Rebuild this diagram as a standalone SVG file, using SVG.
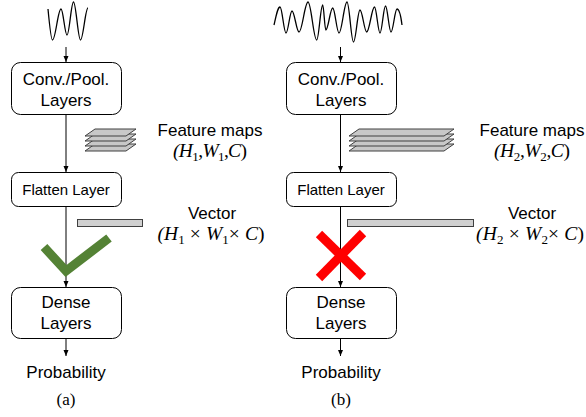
<svg xmlns="http://www.w3.org/2000/svg" width="586" height="417" viewBox="0 0 586 417">
<style>
.box{fill:#fff;stroke:#000;stroke-width:1}
.lbl{font-family:"Liberation Sans",Arial,sans-serif;font-size:17px;fill:#000;text-anchor:middle}
.sm{font-size:15px}
.math{font-family:"Liberation Serif","Times New Roman",serif;font-size:19.5px;font-style:italic;fill:#000;text-anchor:middle}
.up{font-style:normal}
.sub{font-style:normal;font-size:13px}
.cap{font-family:"Liberation Serif","Times New Roman",serif;font-size:17px;fill:#000;text-anchor:middle}
.wave{fill:none;stroke:#000;stroke-width:1.3}
.plate{fill:#c8c8c8;stroke:#404040;stroke-width:1}
.bar{fill:#d0d0d0;stroke:#404040;stroke-width:1}
.conn{stroke:#000;stroke-width:1;fill:none}
</style>
<defs>
<marker id="ah" viewBox="0 0 6 6" refX="6" refY="3" markerWidth="6" markerHeight="6" orient="auto" markerUnits="userSpaceOnUse">
<path d="M0,0.5 L6,3 L0,5.5 z" fill="#000"/>
</marker>
</defs>

<g id="wave-a">
<path class="wave" d="M48,9 C49.5,25 51,40 52.5,40 C55.6,40 57.9,9 61,9 C63.2,9 64.8,35 67,35 C69.4,35 71.1,2 73.5,2 C76,2 78,40 80.5,40 C83.2,40 85.3,8 88,8"/>
</g>
<g id="wave-b">
<path class="wave" d="M274,25 C276.5,14 277.8,7 280,7 C282.2,7 283.8,33 286,33 C288.2,33 289.8,11 292,11 C294.5,11 296.5,32 299,32 C302.3,32 304.7,2 308,2 C311.2,2 313.5,40 316.7,40 C318.9,40 320.5,5 322.7,5 C323.8,5 324.7,30 325.8,30 C328.3,30 330.2,8 332.7,8 C335,8 336.7,33 339,33 C341.9,33 344.1,2 347,2 C349.4,2 351.1,42 353.5,42 C355.9,42 357.6,10 360,10 C362.4,10 364.3,32 366.7,32 C369.5,32 371.7,7 374.5,7 C376.5,7 378,33 380,33 C382,33 383.5,6 385.5,6 C387.5,6 389,32 391,32 C393.2,32 394.8,9 397,9 C399,9 401,17 402,25"/>
</g>

<g id="connectors">
<line class="conn" x1="66" y1="47" x2="66" y2="62" marker-end="url(#ah)"/>
<line class="conn" x1="66" y1="114" x2="66" y2="172" marker-end="url(#ah)"/>
<line class="conn" x1="66" y1="207" x2="66" y2="287" marker-end="url(#ah)"/>
<line class="conn" x1="66" y1="338" x2="66" y2="356" marker-end="url(#ah)"/>
<line class="conn" x1="340.5" y1="47" x2="340.5" y2="62" marker-end="url(#ah)"/>
<line class="conn" x1="340.5" y1="114" x2="340.5" y2="172" marker-end="url(#ah)"/>
<line class="conn" x1="340.5" y1="207" x2="340.5" y2="287" marker-end="url(#ah)"/>
<line class="conn" x1="340.5" y1="338" x2="340.5" y2="356" marker-end="url(#ah)"/>
</g>

<g id="conv-a">
<rect class="box" x="11.5" y="62.5" width="110" height="52" rx="9"/>
<text class="lbl" x="66" y="85">Conv./Pool.</text>
<text class="lbl" x="66" y="106">Layers</text>
</g>
<g id="flatten-a">
<rect class="box" x="11.5" y="172.5" width="110" height="34" rx="7"/>
<text class="lbl sm" x="66" y="195">Flatten Layer</text>
</g>
<g id="dense-a">
<rect class="box" x="11.5" y="287.5" width="110" height="51" rx="9"/>
<text class="lbl" x="66" y="308">Dense</text>
<text class="lbl" x="66" y="329">Layers</text>
</g>
<g id="prob-a">
<text class="lbl" x="66" y="378">Probability</text>
</g>

<g id="conv-b">
<rect class="box" x="286.5" y="62.5" width="110" height="52" rx="9"/>
<text class="lbl" x="341" y="85">Conv./Pool.</text>
<text class="lbl" x="341" y="106">Layers</text>
</g>
<g id="flatten-b">
<rect class="box" x="286.5" y="172.5" width="110" height="34" rx="7"/>
<text class="lbl sm" x="341" y="195">Flatten Layer</text>
</g>
<g id="dense-b">
<rect class="box" x="286.5" y="287.5" width="110" height="51" rx="9"/>
<text class="lbl" x="341" y="308">Dense</text>
<text class="lbl" x="341" y="329">Layers</text>
</g>
<g id="prob-b">
<text class="lbl" x="341" y="378">Probability</text>
</g>

<g id="featuremaps-a">
<polygon class="plate" points="95,144 136,144 126,151 85,151"/>
<polygon class="plate" points="95,139 136,139 126,146 85,146"/>
<polygon class="plate" points="95,134 136,134 126,141 85,141"/>
<polygon class="plate" points="95,129 136,129 126,136 85,136"/>
<text class="lbl" x="210" y="136">Feature maps</text>
<text class="math" x="210" y="157" textLength="74" lengthAdjust="spacing">(H<tspan class="sub" dy="4">1</tspan><tspan class="up" dy="-4">,</tspan>W<tspan class="sub" dy="4">1</tspan><tspan class="up" dy="-4">,</tspan>C<tspan class="up">)</tspan></text>
</g>
<g id="featuremaps-b">
<polygon class="plate" points="359,144 454,144 444,151 349,151"/>
<polygon class="plate" points="359,139 454,139 444,146 349,146"/>
<polygon class="plate" points="359,134 454,134 444,141 349,141"/>
<polygon class="plate" points="359,129 454,129 444,136 349,136"/>
<text class="lbl" x="532" y="136">Feature maps</text>
<text class="math" x="532" y="157" textLength="76" lengthAdjust="spacing">(H<tspan class="sub" dy="4">2</tspan><tspan class="up" dy="-4">,</tspan>W<tspan class="sub" dy="4">2</tspan><tspan class="up" dy="-4">,</tspan>C<tspan class="up">)</tspan></text>
</g>

<g id="vector-a">
<rect class="bar" x="77.5" y="219.5" width="65" height="7"/>
<text class="lbl" x="212" y="219">Vector</text>
<text class="math" x="211" y="240" textLength="107" lengthAdjust="spacing">(H<tspan class="sub" dy="4">1</tspan><tspan class="up" dy="-4"> × </tspan>W<tspan class="sub" dy="4">1</tspan><tspan class="up" dy="-4">× </tspan>C<tspan class="up">)</tspan></text>
</g>
<g id="vector-b">
<rect class="bar" x="347.5" y="219.5" width="126" height="7"/>
<text class="lbl" x="532" y="219">Vector</text>
<text class="math" x="530" y="240" textLength="108" lengthAdjust="spacing">(H<tspan class="sub" dy="4">2</tspan><tspan class="up" dy="-4"> × </tspan>W<tspan class="sub" dy="4">2</tspan><tspan class="up" dy="-4">× </tspan>C<tspan class="up">)</tspan></text>
</g>

<g id="check">
<polyline points="44,247 66,271 109,238" fill="none" stroke="#548235" stroke-width="9" stroke-linejoin="miter"/>
</g>
<g id="cross">
<line x1="319" y1="234" x2="363" y2="277" stroke="#ff0000" stroke-width="9"/>
<line x1="363" y1="233" x2="319" y2="278" stroke="#ff0000" stroke-width="9"/>
</g>

<g id="captions">
<text class="cap" x="66" y="405">(a)</text>
<text class="cap" x="341" y="405">(b)</text>
</g>
</svg>
